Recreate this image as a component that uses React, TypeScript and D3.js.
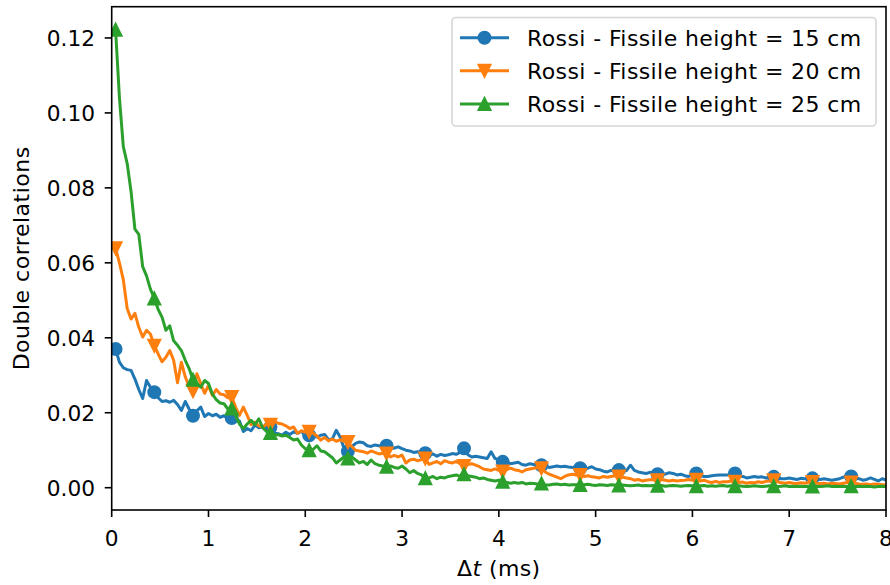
import React from "react";
import * as d3 from "d3";

// Sample times: bins of 0.04 ms, first bin at 0.04 ms
const timeStepMs = 0.04;

// Double correlations vs Δt (ms), one value per 0.04 ms bin (0.04 … 8.00)
const rossi15: number[] = [
  0.0370, 0.0335, 0.0320, 0.0315, 0.0313, 0.0290, 0.0262, 0.0238, 0.0286, 0.0268,
  0.0255, 0.0240, 0.0230, 0.0232, 0.0228, 0.0233, 0.0222, 0.0206, 0.0230, 0.0210,
  0.0192, 0.0205, 0.0215, 0.0190, 0.0198, 0.0192, 0.0196, 0.0188, 0.0192, 0.0185,
  0.0186, 0.0184, 0.0178, 0.0150, 0.0158, 0.0152, 0.0167, 0.0160, 0.0162, 0.0158,
  0.0162, 0.0146, 0.0144, 0.0140, 0.0148, 0.0142, 0.0149, 0.0145, 0.0150, 0.0142,
  0.0140, 0.0148, 0.0135, 0.0140, 0.0142, 0.0128, 0.0130, 0.0153, 0.0135, 0.0105,
  0.0097, 0.0110, 0.0118, 0.0122, 0.0120, 0.0112, 0.0110, 0.0114, 0.0112, 0.0110,
  0.0112, 0.0104, 0.0106, 0.0109, 0.0104, 0.0100, 0.0098, 0.0094, 0.0096, 0.0092,
  0.0092, 0.0088, 0.0090, 0.0084, 0.0089, 0.0086, 0.0088, 0.0091, 0.0089, 0.0094,
  0.0105, 0.0088, 0.0082, 0.0084, 0.0082, 0.0080, 0.0078, 0.0096, 0.0078, 0.0074,
  0.0069, 0.0068, 0.0064, 0.0066, 0.0068, 0.0062, 0.0060, 0.0064, 0.0062, 0.0058,
  0.0060, 0.0058, 0.0054, 0.0056, 0.0058, 0.0056, 0.0057, 0.0055, 0.0054, 0.0054,
  0.0052, 0.0050, 0.0052, 0.0056, 0.0050, 0.0048, 0.0044, 0.0042, 0.0046, 0.0048,
  0.0047, 0.0044, 0.0046, 0.0060, 0.0046, 0.0042, 0.0040, 0.0038, 0.0041, 0.0039,
  0.0036, 0.0038, 0.0036, 0.0040, 0.0038, 0.0034, 0.0036, 0.0032, 0.0030, 0.0034,
  0.0038, 0.0033, 0.0030, 0.0030, 0.0032, 0.0033, 0.0034, 0.0034, 0.0034, 0.0036,
  0.0038, 0.0032, 0.0030, 0.0026, 0.0028, 0.0030, 0.0028, 0.0029, 0.0026, 0.0028,
  0.0029, 0.0026, 0.0024, 0.0024, 0.0026, 0.0024, 0.0022, 0.0025, 0.0024, 0.0023,
  0.0025, 0.0023, 0.0022, 0.0024, 0.0022, 0.0020, 0.0022, 0.0024, 0.0028, 0.0034,
  0.0030, 0.0026, 0.0024, 0.0020, 0.0022, 0.0026, 0.0022, 0.0018, 0.0024, 0.0020,
];

const rossi20: number[] = [
  0.0639, 0.0600, 0.0555, 0.0478, 0.0450, 0.0465, 0.0428, 0.0402, 0.0420, 0.0410,
  0.0379, 0.0357, 0.0336, 0.0348, 0.0366, 0.0340, 0.0280, 0.0335, 0.0296, 0.0270,
  0.0258, 0.0304, 0.0278, 0.0252, 0.0273, 0.0246, 0.0262, 0.0250, 0.0248, 0.0240,
  0.0242, 0.0215, 0.0193, 0.0215, 0.0193, 0.0168, 0.0175, 0.0165, 0.0162, 0.0170,
  0.0168, 0.0178, 0.0172, 0.0170, 0.0165, 0.0158, 0.0162, 0.0145, 0.0152, 0.0148,
  0.0149, 0.0146, 0.0138, 0.0127, 0.0134, 0.0125, 0.0130, 0.0124, 0.0128, 0.0124,
  0.0122, 0.0110, 0.0100, 0.0098, 0.0096, 0.0092, 0.0098, 0.0094, 0.0090, 0.0092,
  0.0091, 0.0082, 0.0086, 0.0082, 0.0087, 0.0066, 0.0074, 0.0076, 0.0072, 0.0075,
  0.0078, 0.0062, 0.0066, 0.0070, 0.0064, 0.0072, 0.0068, 0.0066, 0.0070, 0.0064,
  0.0058, 0.0062, 0.0064, 0.0060, 0.0056, 0.0050, 0.0048, 0.0046, 0.0050, 0.0046,
  0.0043, 0.0048, 0.0052, 0.0048, 0.0046, 0.0042, 0.0048, 0.0050, 0.0052, 0.0054,
  0.0052, 0.0042, 0.0036, 0.0032, 0.0028, 0.0024, 0.0030, 0.0034, 0.0036, 0.0034,
  0.0034, 0.0030, 0.0032, 0.0029, 0.0028, 0.0026, 0.0030, 0.0028, 0.0030, 0.0032,
  0.0030, 0.0028, 0.0026, 0.0024, 0.0020, 0.0022, 0.0018, 0.0020, 0.0021, 0.0022,
  0.0020, 0.0022, 0.0020, 0.0018, 0.0020, 0.0018, 0.0019, 0.0020, 0.0022, 0.0020,
  0.0021, 0.0018, 0.0020, 0.0016, 0.0014, 0.0017, 0.0014, 0.0016, 0.0016, 0.0018,
  0.0016, 0.0014, 0.0015, 0.0012, 0.0014, 0.0013, 0.0016, 0.0014, 0.0017, 0.0018,
  0.0020, 0.0016, 0.0013, 0.0012, 0.0014, 0.0012, 0.0011, 0.0013, 0.0012, 0.0014,
  0.0015, 0.0012, 0.0011, 0.0012, 0.0010, 0.0012, 0.0011, 0.0010, 0.0012, 0.0014,
  0.0014, 0.0012, 0.0010, 0.0009, 0.0010, 0.0008, 0.0010, 0.0009, 0.0008, 0.0007,
];

const rossi25: number[] = [
  0.1222, 0.1040, 0.0910, 0.0865, 0.0790, 0.0690, 0.0676, 0.0590, 0.0565, 0.0530,
  0.0505, 0.0476, 0.0455, 0.0420, 0.0432, 0.0392, 0.0380, 0.0366, 0.0340, 0.0318,
  0.0288, 0.0278, 0.0268, 0.0286, 0.0278, 0.0250, 0.0235, 0.0226, 0.0224, 0.0210,
  0.0211, 0.0192, 0.0170, 0.0158, 0.0170, 0.0180, 0.0168, 0.0184, 0.0160, 0.0150,
  0.0146, 0.0140, 0.0142, 0.0138, 0.0140, 0.0134, 0.0127, 0.0130, 0.0114, 0.0104,
  0.0100, 0.0102, 0.0112, 0.0098, 0.0096, 0.0088, 0.0080, 0.0066, 0.0074, 0.0082,
  0.0078, 0.0082, 0.0074, 0.0066, 0.0070, 0.0062, 0.0074, 0.0064, 0.0060, 0.0058,
  0.0056, 0.0058, 0.0054, 0.0052, 0.0058, 0.0050, 0.0040, 0.0046, 0.0038, 0.0034,
  0.0025, 0.0026, 0.0030, 0.0024, 0.0028, 0.0026, 0.0030, 0.0032, 0.0034, 0.0030,
  0.0036, 0.0032, 0.0030, 0.0028, 0.0024, 0.0026, 0.0022, 0.0020, 0.0018, 0.0020,
  0.0016, 0.0014, 0.0012, 0.0014, 0.0012, 0.0014, 0.0010, 0.0012, 0.0011, 0.0010,
  0.0011, 0.0008, 0.0007, 0.0009, 0.0010, 0.0008, 0.0009, 0.0007, 0.0008, 0.0008,
  0.0007, 0.0008, 0.0009, 0.0007, 0.0006, 0.0008, 0.0007, 0.0006, 0.0008, 0.0007,
  0.0006, 0.0007, 0.0006, 0.0005, 0.0006, 0.0007, 0.0005, 0.0006, 0.0005, 0.0006,
  0.0005, 0.0006, 0.0004, 0.0005, 0.0006, 0.0005, 0.0004, 0.0005, 0.0006, 0.0005,
  0.0004, 0.0005, 0.0006, 0.0004, 0.0005, 0.0004, 0.0005, 0.0006, 0.0004, 0.0005,
  0.0004, 0.0005, 0.0004, 0.0003, 0.0004, 0.0005, 0.0004, 0.0003, 0.0004, 0.0005,
  0.0004, 0.0003, 0.0004, 0.0005, 0.0003, 0.0004, 0.0003, 0.0004, 0.0003, 0.0004,
  0.0003, 0.0004, 0.0003, 0.0004, 0.0005, 0.0003, 0.0004, 0.0003, 0.0004, 0.0003,
  0.0004, 0.0003, 0.0004, 0.0003, 0.0004, 0.0003, 0.0002, 0.0003, 0.0004, 0.0003,
];

const seriesLabels = [
  "Rossi - Fissile height = 15 cm",
  "Rossi - Fissile height = 20 cm",
  "Rossi - Fissile height = 25 cm",
];
const seriesColors = ["#1f77b4", "#ff7f0e", "#2ca02c"];
const seriesMarkers = ["circle", "triangleDown", "triangleUp"];

const xTicks = [0, 1, 2, 3, 4, 5, 6, 7, 8];
const yTicks = [0.0, 0.02, 0.04, 0.06, 0.08, 0.1, 0.12];
const xDomain: [number, number] = [0, 8];
const yDomain: [number, number] = [-0.00595, 0.12834];
const markEvery = 10;

const W = 890;
const H = 585;
const plot = { left: 111.7, right: 886, top: 6.7, bottom: 510 };
const FONT = "'DejaVu Sans', sans-serif";
const TICK_FS = 21.7;
const LABEL_FS = 22;

function markerPath(kind: string, cx: number, cy: number, s = 6) {
  if (kind === "circle") {
    return `M${cx + s},${cy} A${s},${s} 0 1 1 ${cx - s},${cy} A${s},${s} 0 1 1 ${cx + s},${cy} Z`;
  }
  if (kind === "triangleDown") {
    return `M${cx},${cy + s} L${cx - s},${cy - s} L${cx + s},${cy - s} Z`;
  }
  return `M${cx},${cy - s} L${cx - s},${cy + s} L${cx + s},${cy + s} Z`;
}

export default function App() {
  const x = d3.scaleLinear().domain(xDomain).range([plot.left, plot.right]);
  const y = d3.scaleLinear().domain(yDomain).range([plot.bottom, plot.top]);
  const allSeries = [rossi15, rossi20, rossi25];

  const line = d3
    .line<number>()
    .x((_, i) => x((i + 1) * timeStepMs))
    .y((d) => y(d));

  const legend = { x0: 452, y0: 17.5, x1: 876, y1: 126 };
  const rowY = [37.7, 70.8, 104];

  return (
    <svg
      width={W}
      height={H}
      style={{ position: "absolute", left: 0, top: 0, background: "#fff" }}
      fontFamily={FONT}
    >
      <defs>
        <clipPath id="plotClip">
          <rect x={plot.left} y={plot.top} width={plot.right - plot.left} height={plot.bottom - plot.top} />
        </clipPath>
      </defs>
      <rect x={0} y={0} width={W} height={H} fill="#fff" />

      <g clipPath="url(#plotClip)">
        {allSeries.map((vals, si) => (
          <g key={si}>
            <path
              d={line(vals) || ""}
              fill="none"
              stroke={seriesColors[si]}
              strokeWidth={3}
              strokeLinejoin="round"
              strokeLinecap="butt"
            />
            {vals.map((v, i) =>
              i % markEvery === 0 ? (
                <path
                  key={i}
                  d={markerPath(seriesMarkers[si], x((i + 1) * timeStepMs), y(v))}
                  fill={seriesColors[si]}
                  stroke={seriesColors[si]}
                  strokeWidth={2}
                  strokeLinejoin="miter"
                />
              ) : null
            )}
          </g>
        ))}
      </g>

      {/* spines */}
      <rect
        x={plot.left}
        y={plot.top}
        width={plot.right - plot.left}
        height={plot.bottom - plot.top}
        fill="none"
        stroke="#000"
        strokeWidth={1.6}
        strokeLinejoin="miter"
      />

      {/* x ticks */}
      {xTicks.map((t) => (
        <g key={"x" + t}>
          <line x1={x(t)} x2={x(t)} y1={plot.bottom} y2={plot.bottom + 7} stroke="#000" strokeWidth={1.6} />
          <text x={x(t)} y={545.5} fontSize={TICK_FS} textAnchor="middle" fill="#000">
            {String(t)}
          </text>
        </g>
      ))}

      {/* y ticks */}
      {yTicks.map((t) => (
        <g key={"y" + t}>
          <line x1={plot.left - 7} x2={plot.left} y1={y(t)} y2={y(t)} stroke="#000" strokeWidth={1.6} />
          <text x={95} y={y(t) + 7.9} fontSize={TICK_FS} textAnchor="end" fill="#000">
            {t.toFixed(2)}
          </text>
        </g>
      ))}

      {/* axis labels */}
      <text
        x={(plot.left + plot.right) / 2}
        y={576}
        fontSize={LABEL_FS}
        letterSpacing={0.4}
        textAnchor="middle"
        fill="#000"
      >
        Δ<tspan fontStyle="italic">t</tspan> (ms)
      </text>
      <text
        transform={`translate(28.5, ${(plot.top + plot.bottom) / 2}) rotate(-90)`}
        fontSize={LABEL_FS}
        letterSpacing={0.5}
        textAnchor="middle"
        fill="#000"
      >
        Double correlations
      </text>

      {/* legend */}
      <rect
        x={legend.x0}
        y={legend.y0}
        width={legend.x1 - legend.x0}
        height={legend.y1 - legend.y0}
        rx={4}
        ry={4}
        fill="#fff"
        fillOpacity={0.8}
        stroke="#cccccc"
        strokeOpacity={0.8}
        strokeWidth={1.6}
      />
      {seriesLabels.map((lab, si) => (
        <g key={lab}>
          <line x1={460} x2={509} y1={rowY[si]} y2={rowY[si]} stroke={seriesColors[si]} strokeWidth={3} />
          <path
            d={markerPath(seriesMarkers[si], 484.5, rowY[si])}
            fill={seriesColors[si]}
            stroke={seriesColors[si]}
            strokeWidth={2}
          />
          <text x={527} y={rowY[si] + 8} fontSize={LABEL_FS} letterSpacing={0.4} fill="#000">
            {lab}
          </text>
        </g>
      ))}
    </svg>
  );
}
